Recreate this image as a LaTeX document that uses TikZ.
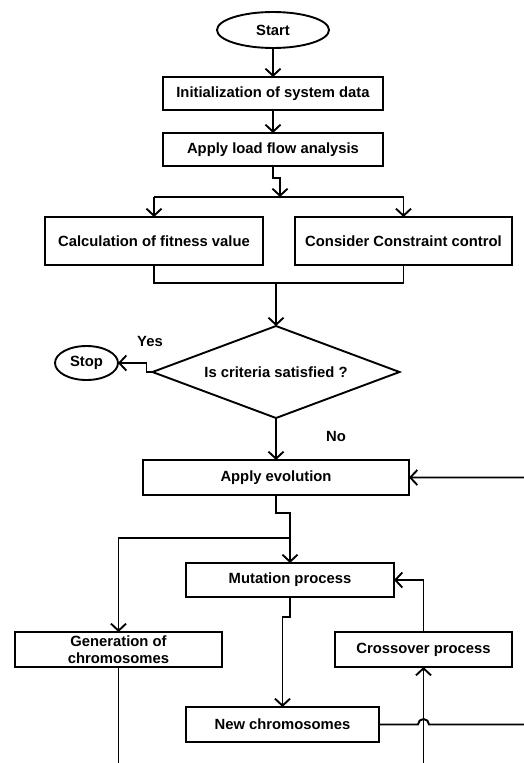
\documentclass[tikz,border=0pt]{standalone}
\usepackage{fontspec}
\setmainfont{Liberation Sans}
\usetikzlibrary{arrows.meta,positioning,shapes.geometric}
\newcommand{\flowfont}{\fontsize{14.8}{17}\selectfont\bfseries}
\tikzset{
  term/.style = {ellipse, draw, line width=1.9pt, inner sep=0pt, outer sep=0pt,
                 font=\flowfont},
  proc/.style = {rectangle, draw, line width=1.9pt, inner sep=0pt, outer sep=0pt,
                 align=center, font=\flowfont},
  dec/.style  = {diamond, draw, line width=1.9pt, inner sep=1pt, outer sep=0pt,
                 aspect=2.7, font=\flowfont},
  lbl/.style  = {inner sep=0pt, font=\flowfont},
  wire/.style = {line width=1.9pt},
  arr/.style  = {-{Straight Barb[length=7pt,width=15pt]}, line width=1.9pt},
}

\begin{document}
\begin{tikzpicture}[x=1pt, y=1pt, node distance=23pt]
\useasboundingbox (0,0) rectangle (524,-763);
\clip (0,0) rectangle (524,-763);

% Start and system data
\node[term, minimum width=112pt, minimum height=36pt] (start) at (273,-30) {Start};
\node[proc, minimum width=220pt, minimum height=33pt, below=29pt of start] (init) {Initialization of system data};
\node[proc, minimum width=220pt, minimum height=33pt, below=23pt of init] (flow) {Apply load flow analysis};
\draw[arr] (start) -- (init);
\draw[arr] (init) -- (flow);

% fitness and constraints side by side
\node[proc, minimum width=218pt, minimum height=48pt] (fit) at (154,-241) {Calculation of fitness value};
\node[proc, minimum width=217pt, minimum height=48pt] (cons) at (403.5,-241) {Consider Constraint control};
\coordinate (split) at (280,-197);
\draw[arr] (flow.south) -- ++(0,-12) -| (split);
\draw[wire] (fit.north |- split) -- (cons.north |- split);
\draw[arr] (fit.north |- split) -- (fit.north);
\draw[arr] (cons.north |- split) -- (cons.north);

% decision
\coordinate (join) at (276,-283);
\draw[wire] (fit.south) |- (join) -| (cons.south);
\node[dec, minimum width=247pt, minimum height=92pt] (crit) at (276,-372) {Is criteria satisfied ?};
\draw[arr] (join) -- (crit.north);

\node[term, minimum width=63pt, minimum height=34pt] (stop) at (86.5,-363) {Stop};
\draw[arr] (crit.west) -- ++(-6,0) |- (stop.east);
\node[lbl] (yes) at (150,-341) {Yes};

\node[proc, minimum width=266pt, minimum height=35pt] (evo) at (276,-477.5) {Apply evolution};
\draw[arr] (crit.south) -- (evo.north);
\node[lbl] (no) at (336,-436) {No};

% evolution stage
\node[proc, minimum width=208pt, minimum height=34pt] (mut) at (290,-580) {Mutation process};
\node[proc, minimum width=207pt, minimum height=35pt] (gen) at (118.5,-649.5) {Generation of\\chromosomes};
\node[proc, minimum width=177pt, minimum height=35pt] (cross) at (423.5,-649.5) {Crossover process};
\node[proc, minimum width=193pt, minimum height=35pt] (newc) at (282.5,-724.5) {New chromosomes};

\coordinate (branch) at (290,-538);
\draw[arr] (evo.south) -- ++(0,-18) -| (mut.north);
\draw[arr] (branch) -| (gen.north);
\draw[arr] (cross.north) |- (mut.east);
\draw[arr] (mut.south) -- ++(0,-20) -| (newc.north);

% loops that leave the frame
\coordinate (rloop) at (536,-600);
\coordinate (bloop) at (270,-763.6);
\draw[arr] (newc.east) -- ([xshift=-5.5pt]cross.south |- newc.east)
   arc[start angle=180, end angle=0, radius=5.5pt]
   -- (rloop |- newc.east) |- (evo.east);
\draw[arr] (gen.south) |- (bloop) -| (cross.south);

\end{tikzpicture}
\end{document}
